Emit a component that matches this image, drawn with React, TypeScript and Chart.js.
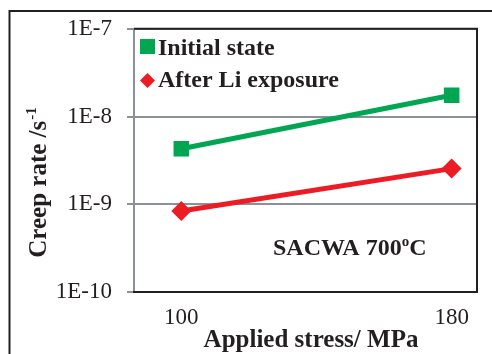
import React, { useEffect, useRef } from "react";
import { Chart, registerables } from "chart.js";

Chart.register(...registerables);

const stresses = [100, 180];
const initialState = [4.3e-9, 1.75e-8];
const afterLi = [8.4e-10, 2.55e-9];
const yTicks = [1e-10, 1e-9, 1e-8, 1e-7];
const yTickLabels = ["1E-10", "1E-9", "1E-8", "1E-7"];
const seriesNames = ["Initial state", "After Li exposure"];
const annotationMain = "SACWA 700";
const annotationSup = "o";
const annotationTail = "C";
const xTitle = "Applied stress/ MPa";
const yTitleMain = "Creep rate /s";
const yTitleSup = "-1";

const GREEN = "#00A651";
const RED = "#ED1C24";
const INK = "#231F20";
const GRID = "#8C9199";
const SERIF = "'Liberation Serif', 'Times New Roman', serif";

const decorPlugin = {
  id: "decor",
  beforeDatasetsDraw(chart: any) {
    const { ctx, chartArea } = chart;
    const { left, top, right, bottom } = chartArea;
    ctx.save();
    ctx.lineWidth = 2;
    ctx.strokeStyle = GRID;
    ctx.beginPath();
    ctx.moveTo(left, top);
    ctx.lineTo(left, bottom);
    ctx.stroke();
    ctx.strokeStyle = INK;
    ctx.beginPath();
    ctx.moveTo(left, top);
    ctx.lineTo(right, top);
    ctx.lineTo(right, bottom);
    ctx.lineTo(left - 1, bottom);
    ctx.stroke();
    ctx.restore();
  },
  afterDraw(chart: any) {
    const { ctx } = chart;
    ctx.save();
    // outer frame
    ctx.strokeStyle = INK;
    ctx.lineWidth = 2;
    ctx.beginPath();
    ctx.moveTo(9.5, 400);
    ctx.lineTo(9.5, 11);
    ctx.lineTo(600, 11);
    ctx.stroke();

    // legend
    ctx.fillStyle = GREEN;
    ctx.fillRect(140, 39, 15, 15);
    ctx.fillStyle = RED;
    ctx.beginPath();
    ctx.moveTo(147.5, 73);
    ctx.lineTo(155, 80.5);
    ctx.lineTo(147.5, 88);
    ctx.lineTo(140, 80.5);
    ctx.closePath();
    ctx.fill();
    ctx.fillStyle = INK;
    ctx.textAlign = "left";
    ctx.textBaseline = "alphabetic";
    ctx.font = `bold 24px ${SERIF}`;
    ctx.fillText(seriesNames[0], 158, 55);
    ctx.fillText(seriesNames[1], 158, 87);

    // annotation
    ctx.font = `bold 24px ${SERIF}`;
    let x = 273;
    const by = 255;
    ctx.fillText(annotationMain, x, by);
    x += ctx.measureText(annotationMain).width;
    ctx.font = `bold 15px ${SERIF}`;
    ctx.fillText(annotationSup, x, by - 9);
    x += ctx.measureText(annotationSup).width;
    ctx.font = `bold 24px ${SERIF}`;
    ctx.fillText(annotationTail, x, by);

    // x title
    ctx.font = `bold 25px ${SERIF}`;
    ctx.textAlign = "center";
    ctx.fillText(xTitle, 311, 347);

    // y title
    ctx.translate(46, 183);
    ctx.rotate(-Math.PI / 2);
    ctx.textAlign = "left";
    ctx.font = `bold 25px ${SERIF}`;
    const wMain = ctx.measureText(yTitleMain).width;
    ctx.font = `bold 15px ${SERIF}`;
    const wSup = ctx.measureText(yTitleSup).width;
    const start = -(wMain + wSup) / 2;
    ctx.font = `bold 25px ${SERIF}`;
    ctx.fillText(yTitleMain, start, 0);
    ctx.font = `bold 15px ${SERIF}`;
    ctx.fillText(yTitleSup, start + wMain + 1, -10);
    ctx.restore();
  },
};

export default function App() {
  const ref = useRef<HTMLCanvasElement>(null);
  useEffect(() => {
    if (!ref.current) return;
    const chart = new Chart(ref.current, {
      type: "line",
      data: {
        datasets: [
          {
            label: seriesNames[0],
            data: stresses.map((s, i) => ({ x: s, y: initialState[i] })),
            borderColor: GREEN,
            backgroundColor: GREEN,
            borderWidth: 5,
            pointStyle: "rect",
            pointRadius: 11,
            pointBorderWidth: 0,
          },
          {
            label: seriesNames[1],
            data: stresses.map((s, i) => ({ x: s, y: afterLi[i] })),
            borderColor: RED,
            backgroundColor: RED,
            borderWidth: 5,
            pointStyle: "rectRot",
            pointRadius: 10,
            pointBorderWidth: 0,
          },
        ],
      },
      plugins: [decorPlugin],
      options: {
        responsive: false,
        animation: false,
        layout: { padding: { left: 0, top: 28, right: 15, bottom: 0 } },
        plugins: { legend: { display: false }, tooltip: { enabled: false } },
        scales: {
          x: {
            type: "linear",
            min: 86,
            max: 187.5,
            afterBuildTicks: (s: any) => {
              s.ticks = stresses.map((v) => ({ value: v }));
            },
            afterFit: (s: any) => {
              s.height = 62;
            },
            grid: { display: false, drawTicks: false },
            border: { display: false },
            ticks: {
              padding: 12,
              color: INK,
              font: { family: SERIF, size: 23 },
              callback: (v: any) => String(v),
            },
          },
          y: {
            type: "logarithmic",
            min: 1e-10,
            max: 1e-7,
            afterBuildTicks: (s: any) => {
              s.ticks = yTicks.map((v) => ({ value: v }));
            },
            afterFit: (s: any) => {
              s.width = 134;
            },
            grid: { color: GRID, lineWidth: 2, tickLength: 7, drawTicks: true },
            border: { display: false },
            ticks: {
              padding: 15,
              color: INK,
              font: { family: SERIF, size: 23 },
              callback: (v: any) => {
                const i = yTicks.findIndex((t) => Math.abs(t - v) / t < 1e-6);
                return i >= 0 ? yTickLabels[i] : "";
              },
            },
          },
        },
      },
    });
    return () => chart.destroy();
  }, []);
  return (
    <div style={{ position: "fixed", left: 0, top: 0, width: 492, height: 354, background: "#fff" }}>
      <canvas ref={ref} width={492} height={354} style={{ display: "block" }} />
    </div>
  );
}
